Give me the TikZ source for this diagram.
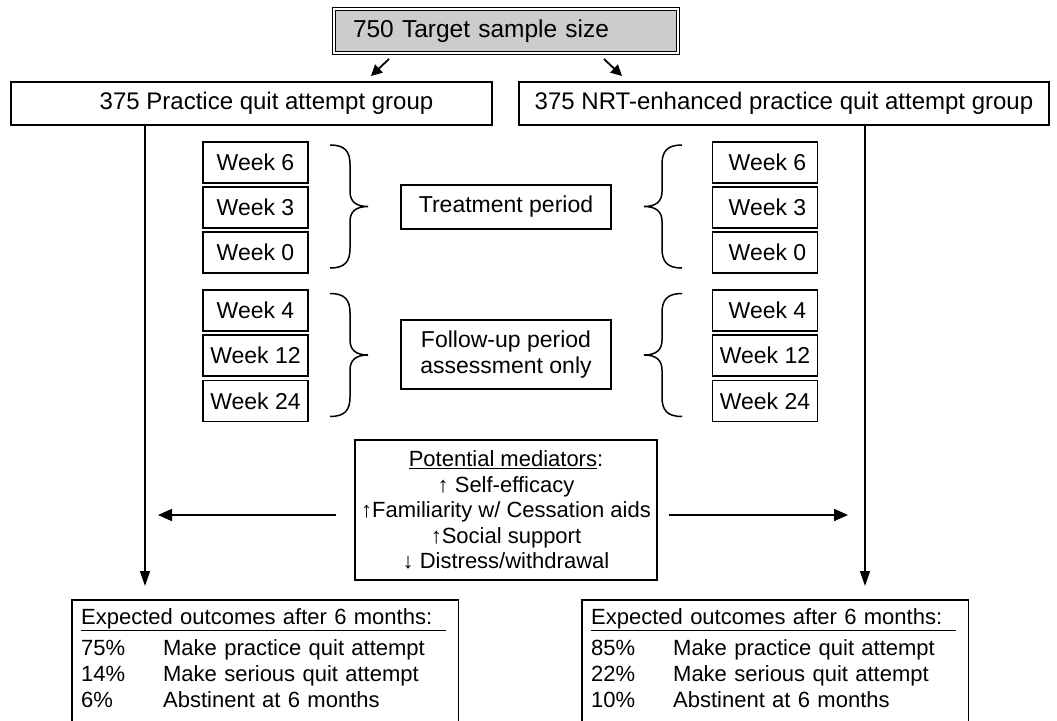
\documentclass[tikz,border=0pt]{standalone}
\usepackage{fontspec}
\setmainfont{Liberation Sans}
\usetikzlibrary{arrows.meta,calc}
\begin{document}
\begin{tikzpicture}[x=1pt,y=-1pt,
  every node/.style={inner sep=0pt},
  box/.style={draw, line width=1.7pt},
  grp/.style={box, minimum height=43pt, font=\fontsize{24}{28}\selectfont},
  week/.style={box, minimum width=105pt, minimum height=41pt, font=\fontsize{23}{27}\selectfont},
  period/.style={box, minimum width=210pt, align=center, font=\fontsize{23}{26}\selectfont},
  outtxt/.style={anchor=north west, align=left, text width=368pt, inner xsep=9pt, inner ysep=8pt, font=\fontsize{22}{26}\selectfont},
  brace/.style={line width=1.5pt},
  vline/.style={line width=1.3pt, -{Triangle[length=15pt,width=10pt]}},
  harrow/.style={line width=1.6pt, -{Triangle[length=14pt,width=12pt]}},
  tarrow/.style={line width=1.8pt, -{Triangle[length=11pt,width=11pt]}},
  brc/.pic={\draw[brace] (0,-61.5) .. controls (15,-61.5) and (20,-55) .. (20,-42) -- (20,-15) .. controls (20,-5) and (26,0) .. (38,0) .. controls (26,0) and (20,5) .. (20,15) -- (20,42) .. controls (20,55) and (15,61.5) .. (0,61.5);}
]
\useasboundingbox (0,0) rectangle (1057,720);

% top box
\node[draw, double, double distance=2.2pt, line width=1.3pt, fill=black!20,
      minimum width=344pt, minimum height=44pt, text width=306pt, inner xsep=19pt,
      align=left, font=\fontsize{24.5}{28}\selectfont] (top) at (506,31) {750 Target sample size};

% group boxes
\node[grp, minimum width=481pt] (g1) at (251.5,103.5) {\hspace{30pt}375 Practice quit attempt group};
\node[grp, minimum width=530pt] (g2) at (784,103.5) {375 NRT-enhanced practice quit attempt group\hspace{14pt}};

\coordinate (ta1) at (389,59); \coordinate (tb1) at (371,76);
\coordinate (ta2) at (604,59); \coordinate (tb2) at (622,76);
\draw[tarrow] (ta1) -- (tb1);
\draw[tarrow] (ta2) -- (tb2);

% week boxes left
\node[week] (L6)  at (255.5,162.5) {Week 6};
\node[week] (L3)  at (255.5,207.5) {Week 3};
\node[week] (L0)  at (255.5,252.5) {Week 0};
\node[week] (L4)  at (255.5,310.5) {Week 4};
\node[week] (L12) at (255.5,355.5) {Week 12};
\node[week] (L24) at (255.5,401)   {Week 24};
% week boxes right
\node[week] (R6)  at (765,162.5) {\hspace{5pt}Week 6};
\node[week] (R3)  at (765,207.5) {\hspace{5pt}Week 3};
\node[week] (R0)  at (765,252.5) {\hspace{5pt}Week 0};
\node[week] (R4)  at (765,310.5) {\hspace{5pt}Week 4};
\node[week] (R12) at (765,355.5) {Week 12};
\node[week] (R24) at (765,401)   {Week 24};

% braces
\pic at (330,206.5) {brc};
\pic at (330,355) {brc};
\pic[xscale=-1] at (682,206.5) {brc};
\pic[xscale=-1] at (682,355) {brc};

% period boxes
\node[period, minimum height=44pt] (tp) at (506,207) {Treatment period};
\node[period, minimum height=69pt] (fp) at (506,354.5) {Follow-up period\\assessment only};

% mediators
\node[box, minimum width=302pt, minimum height=140pt, align=center,
      font=\fontsize{22}{25.5}\selectfont] (med) at (506,510)
  {\underline{Potential mediators}:\\ ↑ Self-efficacy\\ ↑Familiarity w/ Cessation aids\\ ↑Social support\\ ↓ Distress/withdrawal};

% outcomes
\node[outtxt] (o1) at (72,600) {\underline{Expected outcomes after 6 months:\hspace{14pt}}\\[5pt]
  \makebox[82pt][l]{75\%}Make practice quit attempt\\
  \makebox[82pt][l]{14\%}Make serious quit attempt\\
  \makebox[82pt][l]{6\%}Abstinent at 6 months};
\draw[box] (o1.north west) rectangle ($(o1.south east)+(0,40)$);
\node[outtxt] (o2) at (582,600) {\underline{Expected outcomes after 6 months:\hspace{14pt}}\\[5pt]
  \makebox[82pt][l]{85\%}Make practice quit attempt\\
  \makebox[82pt][l]{22\%}Make serious quit attempt\\
  \makebox[82pt][l]{10\%}Abstinent at 6 months};
\draw[box] (o2.north west) rectangle ($(o2.south east)+(0,40)$);

% vertical connectors
\coordinate (lx) at (145,0);
\coordinate (rx) at (865,0);
\draw[vline] (g1.south -| lx) -- ($(o1.north -| lx)+(0,-14)$);
\draw[vline] (g2.south -| rx) -- ($(o2.north -| rx)+(0,-14)$);

% mediator arrows
\draw[harrow] ($(med.west)+(-18,5)$) -- ($(lx |- med.west)+(13,5)$);
\draw[harrow] ($(med.east)+(11,5)$) -- ($(rx |- med.east)+(-17,5)$);
\end{tikzpicture}
\end{document}
